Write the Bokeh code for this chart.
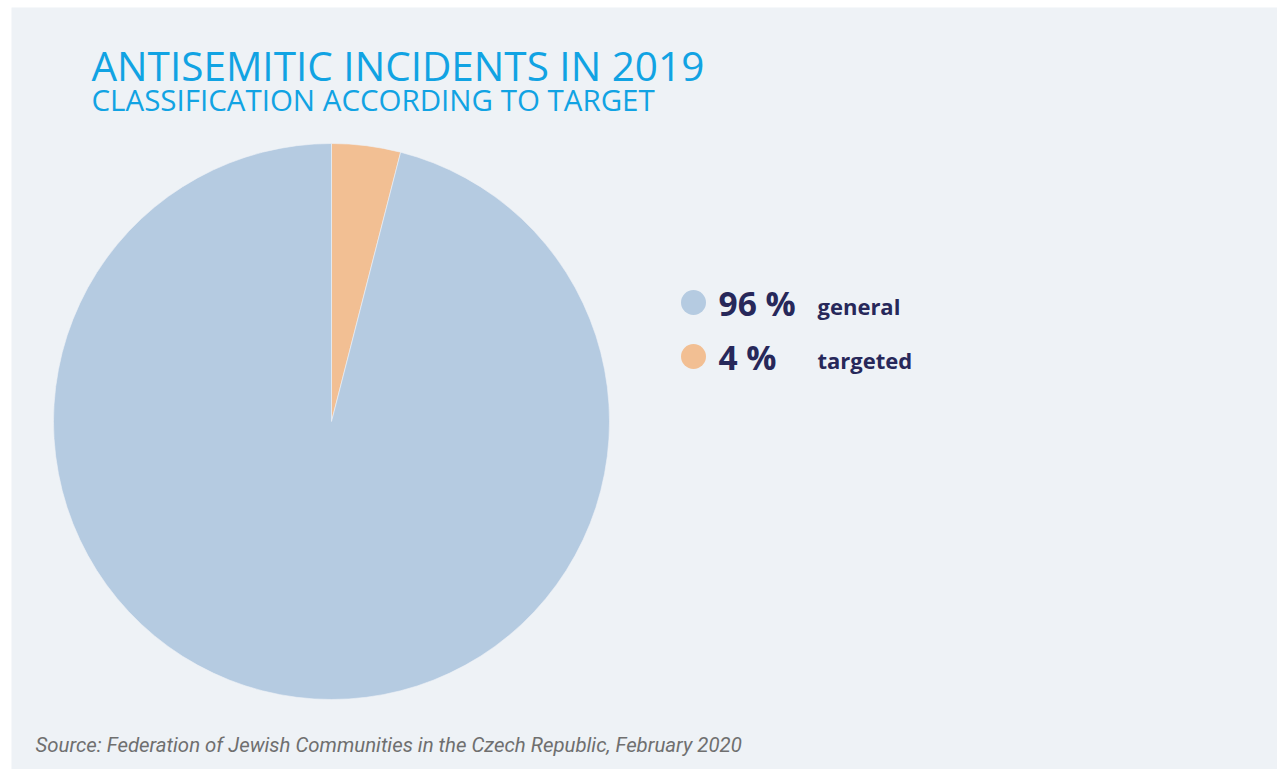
import math
from bokeh.plotting import figure
from bokeh.models import Range1d, BoxAnnotation, ColumnDataSource
from bokeh.core.properties import value
from bokeh.embed import file_html
from bokeh.resources import INLINE

# ---- data ----
categories = ["targeted", "general"]
shares = [4, 96]
pct_labels = ["4 %", "96 %"]
colors = ["#f2bf93", "#b5cbe1"]
title = "ANTISEMITIC INCIDENTS IN 2019"
subtitle = "CLASSIFICATION ACCORDING TO TARGET"
source_note = "Source: Federation of Jewish Communities in the Czech Republic, February 2020"

W, H = 1277, 769
p = figure(width=W, height=H, x_range=Range1d(0, W), y_range=Range1d(0, H),
           output_backend="svg", toolbar_location=None, min_border=0)
p.axis.visible = False
p.grid.visible = False
p.outline_line_color = None
p.background_fill_color = "white"
p.border_fill_color = "white"

def Y(yp):
    return H - yp

def base(yp, size):
    # empirical correction for the alphabetic baseline in the svg backend
    return Y(yp - 0.38 * size)

p.add_layout(BoxAnnotation(left=11, right=W, bottom=0, top=Y(7),
                           fill_color="#eef2f6", fill_alpha=1, line_color=None,
                           level="underlay"))

# pie
total = sum(shares)
starts, ends = [], []
cum = 0.0
for s in shares:
    a0 = math.pi / 2 - 2 * math.pi * (cum + s) / total
    a1 = math.pi / 2 - 2 * math.pi * cum / total
    starts.append(a0)
    ends.append(a1)
    cum += s
src = ColumnDataSource(dict(cat=categories, start=starts, end=ends, color=colors))
p.wedge(x=331, y=Y(421), radius=278, start_angle="start", end_angle="end",
        fill_color="color", line_color="#eef2f6", line_width=0.6, source=src)

# titles
p.text(x=[91], y=[base(80, 40.5)], text=[title], text_font=value("Open Sans"),
       text_font_size="40.5px", text_color="#11a3e3", text_baseline="alphabetic")
p.text(x=[91], y=[base(110, 29.5)], text=[subtitle], text_font=value("Open Sans"),
       text_font_size="29.5px", text_color="#11a3e3", text_baseline="alphabetic")

# legend (general first, then targeted)
order = [1, 0]
leg_y = [302, 356]
for i, yy in zip(order, leg_y):
    p.scatter(x=[693], y=[Y(yy)], size=25, marker="circle",
              fill_color=colors[i], line_color=None)
    p.text(x=[718], y=[base(yy + 13, 33.5)], text=[pct_labels[i]], text_font=value("Open Sans"),
           text_font_size="33.5px", text_font_style="bold", text_color="#27285a",
           text_baseline="alphabetic")
    p.text(x=[817], y=[base(yy + 12, 22)], text=[categories[i]], text_font=value("Open Sans"),
           text_font_size="22px", text_font_style="bold", text_color="#27285a",
           text_baseline="alphabetic")

p.text(x=[35], y=[base(752, 20.4)], text=[source_note], text_font=value("Roboto"),
       text_font_size="20.4px", text_font_style="italic", text_color="#6f6f6f",
       text_baseline="alphabetic")

open("out.html", "w").write(file_html(p, INLINE))
